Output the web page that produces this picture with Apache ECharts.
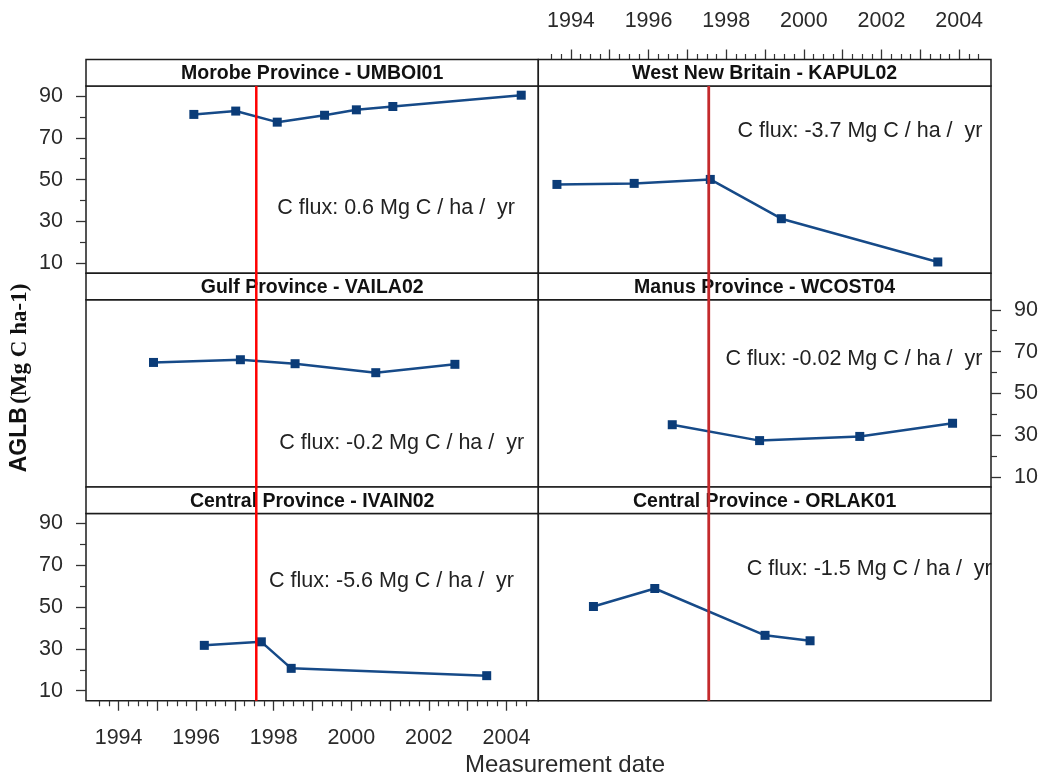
<!DOCTYPE html>
<html><head><meta charset="utf-8">
<script src="https://cdn.jsdelivr.net/npm/echarts@6/dist/echarts.min.js"></script>
<style>html,body{margin:0;padding:0;background:#fff}#c{width:1045px;height:783px}</style>
</head><body><div id="c"></div>
<script>
// ---------- data ----------
const panelTitles = ['Morobe Province - UMBOI01', 'West New Britain - KAPUL02', 'Gulf Province - VAILA02', 'Manus Province - WCOST04', 'Central Province - IVAIN02', 'Central Province - ORLAK01'];
const fluxLabels = ['C flux: 0.6 Mg C / ha /  yr', 'C flux: -3.7 Mg C / ha /  yr', 'C flux: -0.2 Mg C / ha /  yr', 'C flux: -0.02 Mg C / ha /  yr', 'C flux: -5.6 Mg C / ha /  yr', 'C flux: -1.5 Mg C / ha /  yr'];
const morobeDates = [1995.94, 1997.02, 1998.09, 1999.31, 2000.13, 2001.07, 2004.38];
const morobeAGLB  = [81.2, 82.8, 77.5, 80.8, 83.4, 85.0, 90.4];
const wnbDates = [1993.64, 1995.63, 1997.59, 1999.42, 2003.45];
const wnbAGLB  = [47.7, 48.2, 50.1, 31.3, 10.6];
const gulfDates = [1994.90, 1997.14, 1998.55, 2000.63, 2002.67];
const gulfAGLB  = [64.8, 66.1, 64.2, 59.9, 63.9];
const manusDates = [1996.61, 1998.86, 2001.44, 2003.83];
const manusAGLB  = [35.0, 27.4, 29.4, 35.7];
const ivainDates = [1996.21, 1997.68, 1998.45, 2003.49];
const ivainAGLB  = [31.7, 33.4, 20.7, 17.2];
const orlakDates = [1994.58, 1996.16, 1999.00, 2000.16];
const orlakAGLB  = [50.3, 58.9, 36.5, 33.9];
const yearTickLabels = [1994, 1996, 1998, 2000, 2002, 2004];
const yearMajorTicks = [1994, 1995, 1996, 1997, 1998, 1999, 2000, 2001, 2002, 2003, 2004];
const yLabelValues = [10, 30, 50, 70, 90];
const yMinorValues = [20, 40, 60, 80];
const eventYear = 1997.55;

const panelDates = [morobeDates, wnbDates, gulfDates, manusDates, ivainDates, orlakDates];
const panelAGLB = [morobeAGLB, wnbAGLB, gulfAGLB, manusAGLB, ivainAGLB, orlakAGLB];

// ---------- layout / style ----------
const X_MIN = 1993.16, X_MAX = 2004.82, Y_MIN = 5.2, Y_MAX = 94.8;
const colLeft = [86, 538.3], colWidth = [452.3, 452.7];
const stripTop = [59.5, 273.25, 487], stripH = 26.5, plotH = 187.25;
// annotation anchors (data coords: year, value) for the flux text
const annoAnchor = [[1998.09, 36.2], [1998.29, 73.0], [1998.14, 26.0], [1997.98, 66.6], [1997.88, 62.6], [1998.53, 68.0]];
const FONT = '"Liberation Sans", Arial, sans-serif';
const lineColor = '#164a88', markerColor = '#0b3c78', borderColor = '#1c1c1c', textColor = '#2a2a2a';

const yearMinorTicks = [];
for (let y = 1993.5; y <= 2004.51; y += 0.25) { if (Math.abs(y - Math.round(y)) > 0.01) yearMinorTicks.push(+y.toFixed(2)); }

const grids = [], xAxes = [], yAxes = [], series = [], graphics = [];
for (let i = 0; i < 6; i++) {
  const row = Math.floor(i / 2), col = i % 2;
  grids.push({left: colLeft[col], top: stripTop[row] + stripH, width: colWidth[col], height: plotH,
    show: true, borderColor: borderColor, borderWidth: 1.5, backgroundColor: 'transparent'});
  const xShow = (i === 1 || i === 4);
  xAxes.push({type: 'value', gridIndex: i, min: X_MIN, max: X_MAX,
    position: i === 1 ? 'top' : 'bottom', offset: i === 1 ? stripH : 0,
    axisLine: {show: false}, splitLine: {show: false},
    axisTick: {show: xShow, customValues: yearMajorTicks, length: 10, lineStyle: {color: '#333', width: 1.3}},
    axisLabel: {show: xShow, customValues: yearTickLabels, margin: i === 1 ? 27 : 26, color: textColor, fontSize: 21.5, fontFamily: FONT, formatter: v => String(v)}});
  const yShow = (i === 0 || i === 3 || i === 4);
  yAxes.push({type: 'value', gridIndex: i, min: Y_MIN, max: Y_MAX, position: i === 3 ? 'right' : 'left',
    axisLine: {show: false}, splitLine: {show: false},
    axisTick: {show: yShow, customValues: yLabelValues, length: 10, lineStyle: {color: '#333', width: 1.3}},
    axisLabel: {show: yShow, customValues: yLabelValues, margin: 23, color: textColor, fontSize: 21.5, fontFamily: FONT}});
  series.push({type: 'line', xAxisIndex: i, yAxisIndex: i,
    data: panelDates[i].map((d, k) => [d, panelAGLB[i][k]]),
    symbol: 'rect', symbolSize: 9, showSymbol: true,
    lineStyle: {color: lineColor, width: 2.5}, itemStyle: {color: markerColor},
    animation: false, silent: true, z: 3});
  series.push({type: 'custom', xAxisIndex: i, yAxisIndex: i, clip: true, silent: true, animation: false,
    data: [annoAnchor[i]],
    renderItem: (function (label) {
      return function (params, api) {
        const p = api.coord([api.value(0), api.value(1)]);
        return {type: 'text', x: p[0], y: p[1],
          style: {text: label, fill: '#222', font: '21.5px ' + FONT, verticalAlign: 'middle', align: 'left'}};
      };
    })(fluxLabels[i]), z: 4});
  // strip
  graphics.push({type: 'rect', shape: {x: colLeft[col], y: stripTop[row], width: colWidth[col], height: stripH},
    style: {fill: '#fff', stroke: borderColor, lineWidth: 1.5}, z: 5, silent: true});
  graphics.push({type: 'text', x: colLeft[col] + colWidth[col] / 2, y: stripTop[row] + stripH / 2 + 1,
    style: {text: panelTitles[i], fill: '#111', font: 'bold 19.5px ' + FONT, align: 'center', verticalAlign: 'middle'}, z: 6, silent: true});
}
// minor tick axes
[1, 4].forEach(g => xAxes.push({type: 'value', gridIndex: g, min: X_MIN, max: X_MAX,
  position: g === 1 ? 'top' : 'bottom', offset: g === 1 ? stripH : 0,
  axisLine: {show: false}, splitLine: {show: false}, axisLabel: {show: false},
  axisTick: {show: true, customValues: yearMinorTicks, length: 5.5, lineStyle: {color: '#333', width: 1.2}}}));
[0, 3, 4].forEach(g => yAxes.push({type: 'value', gridIndex: g, min: Y_MIN, max: Y_MAX,
  position: g === 3 ? 'right' : 'left',
  axisLine: {show: false}, splitLine: {show: false}, axisLabel: {show: false},
  axisTick: {show: true, customValues: yMinorValues, length: 6, lineStyle: {color: '#333', width: 1.2}}}));

// axis titles
graphics.push({type: 'text', x: 565, y: 765,
  style: {text: 'Measurement date', fill: textColor, font: '24px ' + FONT, align: 'center', verticalAlign: 'middle'}, z: 6});
graphics.push({type: 'text', x: 20, y: 378, rotation: Math.PI / 2,
  style: {text: '{a|AGLB} {b|(Mg C ha-1)}', align: 'center', verticalAlign: 'middle',
    rich: {a: {font: 'bold 23px ' + FONT, fill: '#111'}, b: {font: 'bold 23px "Liberation Serif", "Times New Roman", serif', fill: '#111'}}}, z: 6});

const chart = echarts.init(document.getElementById('c'), null, {renderer: 'canvas'});
chart.setOption({animation: false, grid: grids, xAxis: xAxes, yAxis: yAxes, series: series, graphic: graphics});

// event reference lines drawn through the library's scales
const yTop = chart.convertToPixel({yAxisIndex: 0}, Y_MAX);
const yBot = chart.convertToPixel({yAxisIndex: 4}, Y_MIN);
const xl = chart.convertToPixel({xAxisIndex: 0}, eventYear);
const xr = chart.convertToPixel({xAxisIndex: 1}, eventYear);
graphics.push({type: 'line', shape: {x1: xl, y1: yTop, x2: xl, y2: yBot}, style: {stroke: '#ff0000', lineWidth: 2.5}, z: 10, silent: true});
graphics.push({type: 'line', shape: {x1: xr, y1: yTop, x2: xr, y2: yBot}, style: {stroke: '#c42a2c', lineWidth: 2.8}, z: 10, silent: true});
chart.setOption({graphic: graphics});
</script>
</body></html>
